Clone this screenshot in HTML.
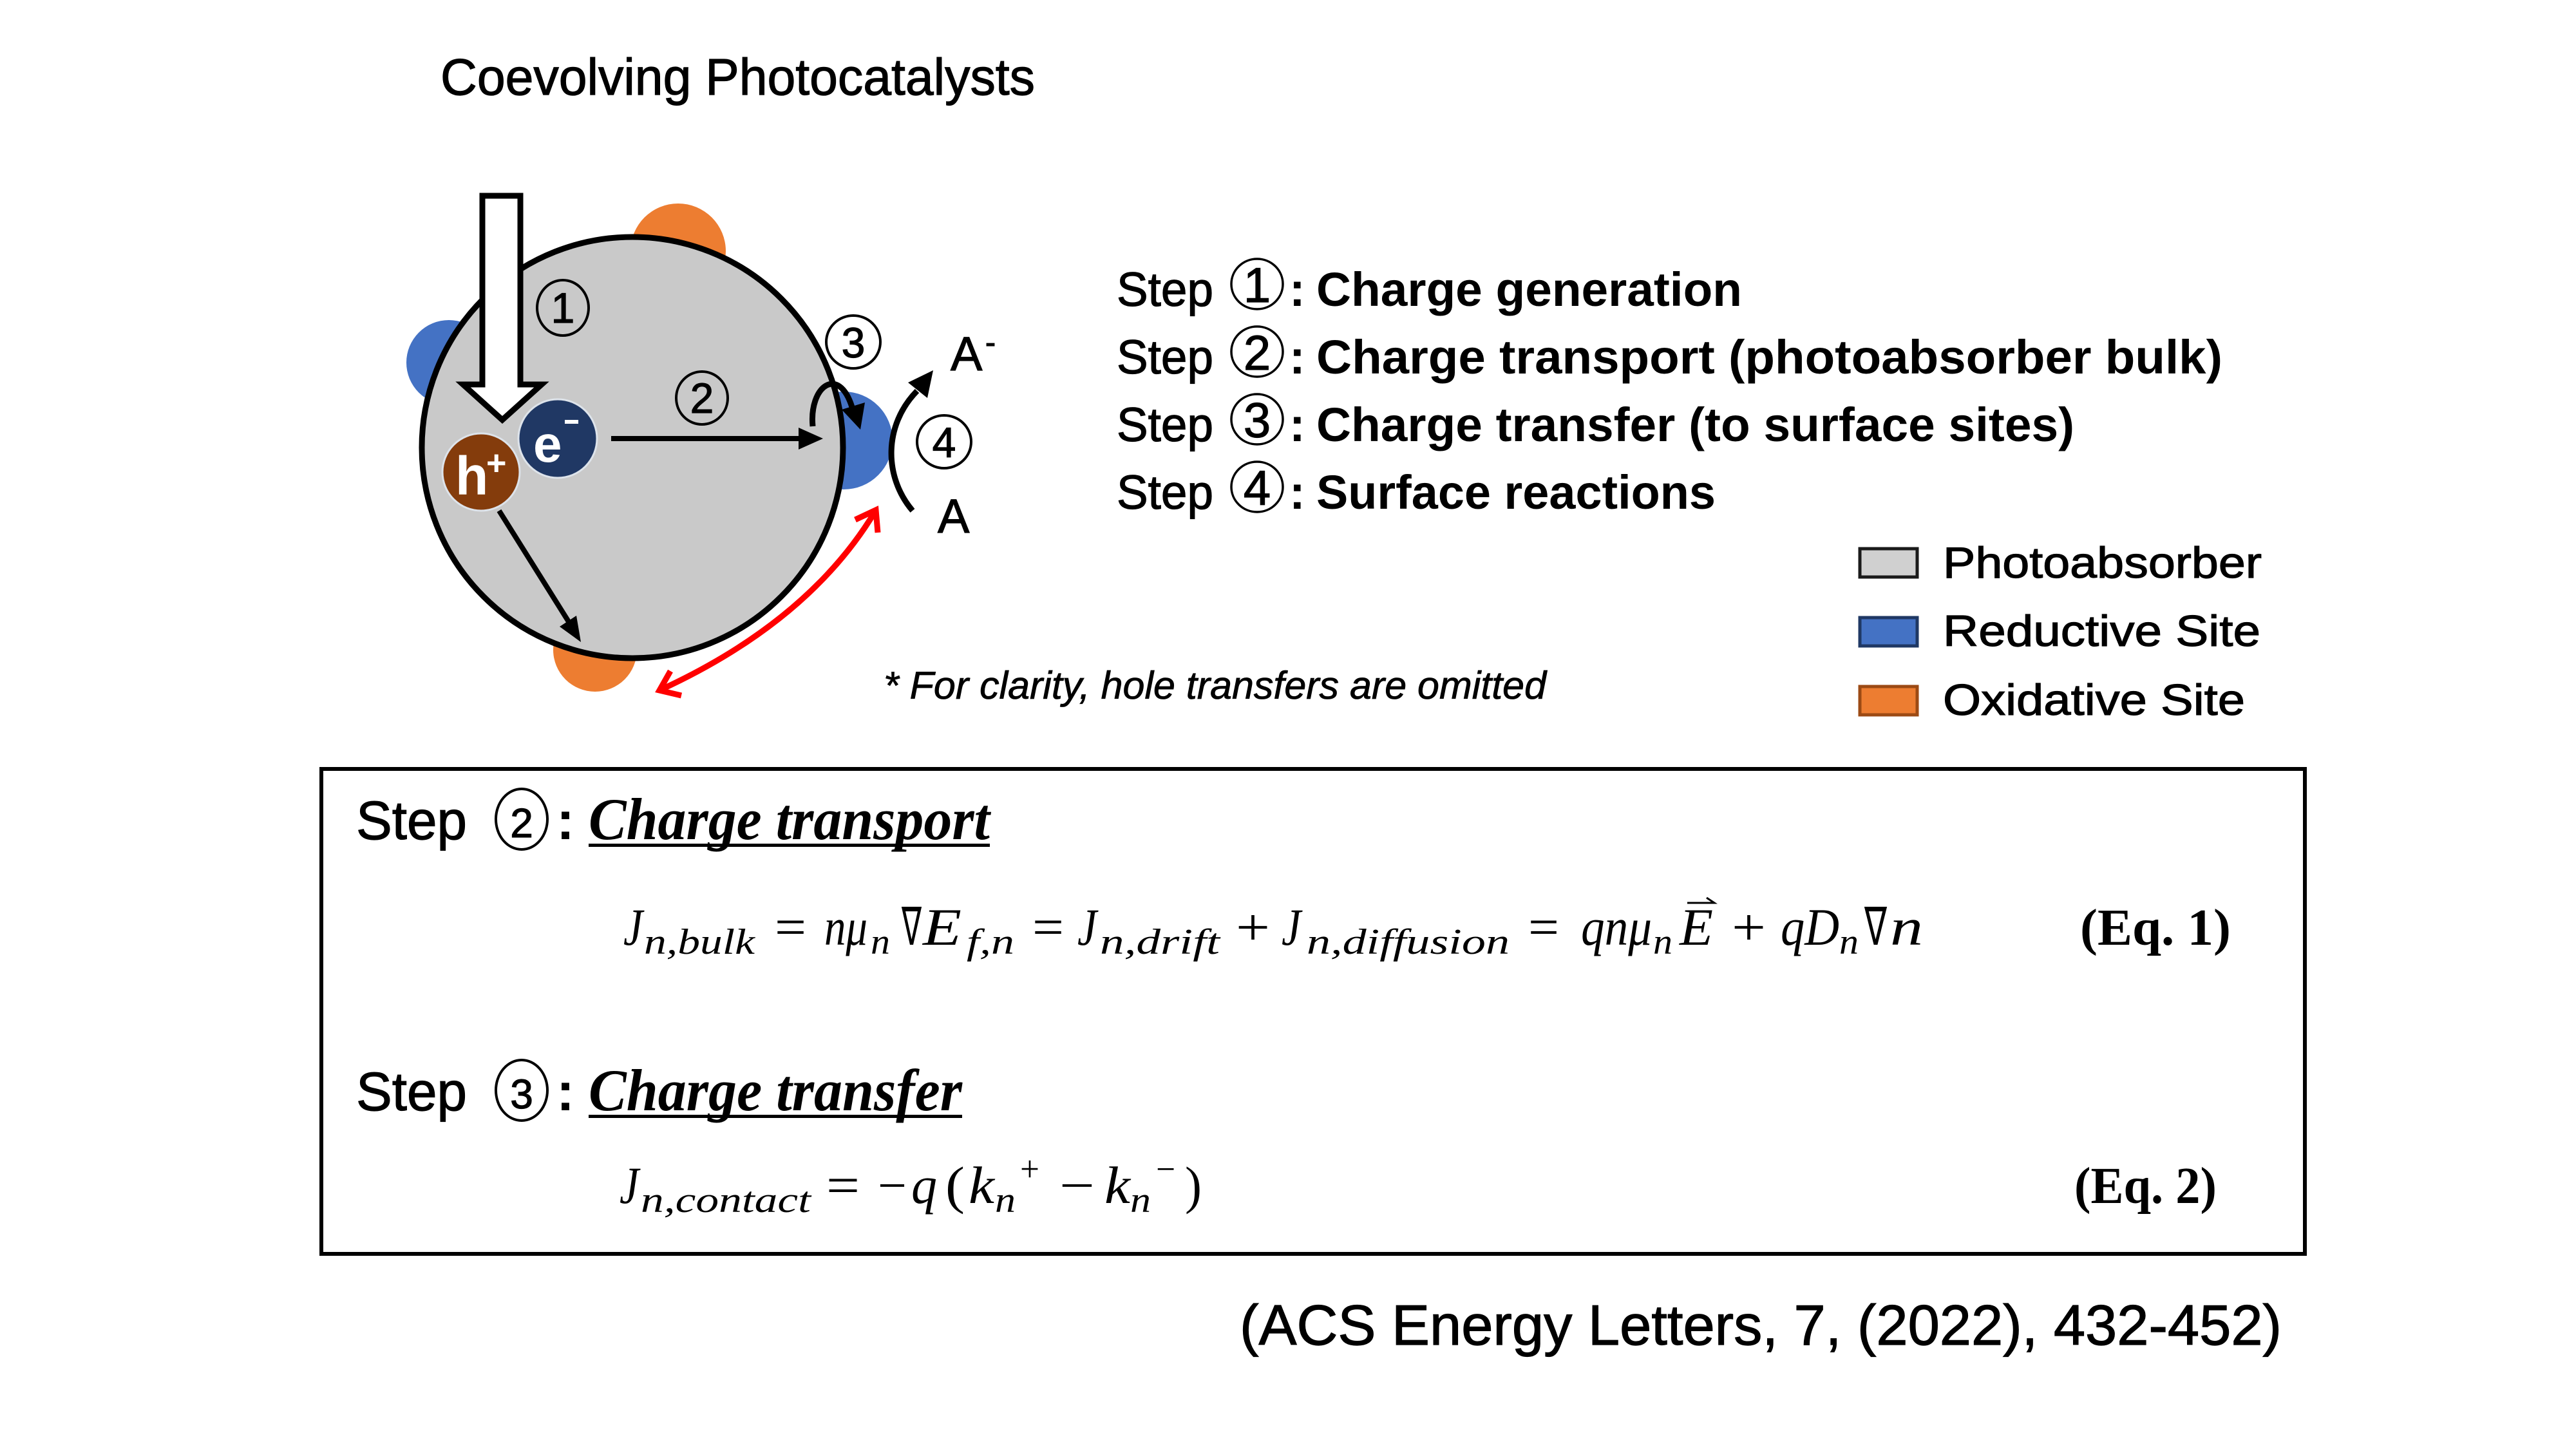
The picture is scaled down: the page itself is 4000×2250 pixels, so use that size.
<!DOCTYPE html>
<html>
<head>
<meta charset="utf-8">
<style>
html,body{margin:0;padding:0;background:#fff;}
svg{display:block;}
.s{font-family:"Liberation Sans",sans-serif;}
.sk{font-family:"Liberation Sans",sans-serif;stroke:#000;stroke-width:1.2;}
.sb{font-family:"Liberation Sans",sans-serif;font-weight:bold;}
.si{font-family:"Liberation Sans",sans-serif;font-style:italic;}
.m{font-family:"Liberation Serif",serif;font-style:italic;}
.r{font-family:"Liberation Serif",serif;}
.rbi{font-family:"Liberation Serif",serif;font-style:italic;font-weight:bold;}
.rb{font-family:"Liberation Serif",serif;font-weight:bold;}
</style>
</head>
<body>
<svg xmlns="http://www.w3.org/2000/svg" width="4000" height="2250" viewBox="0 0 4000 2250">
<rect width="4000" height="2250" fill="#ffffff"/>

<!-- Title -->
<text class="sk" x="684" y="147" font-size="80" textLength="923" lengthAdjust="spacingAndGlyphs">Coevolving Photocatalysts</text>

<!-- ===== Diagram ===== -->
<circle cx="1053" cy="390" r="74" fill="#ED7D31"/>
<circle cx="697" cy="563" r="66" fill="#4472C4"/>
<circle cx="1310" cy="684" r="76" fill="#4472C4"/>
<circle cx="924" cy="1009" r="65" fill="#ED7D31"/>
<circle cx="982" cy="695" r="327" fill="#C9C9C9" stroke="#000" stroke-width="9"/>

<!-- big light arrow -->
<polygon points="749,304 808,304 808,597 841,597 780,652 719,597 749,597" fill="#fff" stroke="#000" stroke-width="9" stroke-linejoin="miter"/>

<!-- circled 1 -->
<ellipse cx="874" cy="478" rx="40" ry="43" fill="none" stroke="#000" stroke-width="4"/>
<text class="sk" x="874" y="501" font-size="66" text-anchor="middle">1</text>

<!-- h+ and e- -->
<circle cx="747" cy="733" r="60" fill="#843C0C" stroke="#dde3ea" stroke-width="3"/>
<text class="sb" x="707" y="768" font-size="84" fill="#fff">h</text>
<text class="sb" x="755" y="737" font-size="54" fill="#fff">+</text>
<circle cx="866" cy="681" r="61" fill="#203864" stroke="#dde3ea" stroke-width="3"/>
<text class="sb" x="828" y="717" font-size="80" fill="#fff">e</text>
<rect x="877" y="652" width="21" height="6" fill="#fff"/>

<!-- arrow 2 -->
<line x1="949" y1="681" x2="1246" y2="681" stroke="#000" stroke-width="8"/>
<polygon points="1240,664 1278,681 1240,698" fill="#000"/>
<ellipse cx="1090" cy="618" rx="40" ry="41" fill="none" stroke="#000" stroke-width="4"/>
<text class="sk" x="1090" y="641" font-size="66" text-anchor="middle">2</text>

<!-- arrow from h+ -->
<line x1="775" y1="793" x2="884" y2="967" stroke="#000" stroke-width="8"/>
<polygon points="902,997 895,956 869,973" fill="#000"/>

<!-- curved arrow 3 -->
<path d="M1262,662 C1256,600 1302,566 1323,632" fill="none" stroke="#000" stroke-width="9"/>
<polygon points="1336,667 1343,625 1307,636" fill="#000"/>
<ellipse cx="1325" cy="531" rx="42" ry="41" fill="none" stroke="#000" stroke-width="4"/>
<text class="sk" x="1325" y="555" font-size="66" text-anchor="middle">3</text>

<!-- arc 4 -->
<path d="M1417,793 C1372,740 1372,660 1424,607" fill="none" stroke="#000" stroke-width="9"/>
<polygon points="1449,575 1440,618 1410,594" fill="#000"/>
<ellipse cx="1466" cy="686" rx="42" ry="41" fill="none" stroke="#000" stroke-width="4"/>
<text class="sk" x="1466" y="710" font-size="66" text-anchor="middle">4</text>

<!-- A- and A -->
<text class="sk" x="1476" y="575" font-size="74">A</text>
<text class="sk" x="1530" y="548" font-size="48">-</text>
<text class="sk" x="1456" y="827" font-size="74">A</text>

<!-- red double arrow -->
<path d="M1026,1071 Q1256,965 1359,794" fill="none" stroke="#FF0000" stroke-width="9"/>
<polyline points="1058,1080 1024,1072 1041,1042" fill="none" stroke="#FF0000" stroke-width="9" stroke-linejoin="miter"/>
<polyline points="1328,807 1360,792 1363,827" fill="none" stroke="#FF0000" stroke-width="9" stroke-linejoin="miter"/>

<!-- footnote -->
<text class="si" x="1372" y="1085" font-size="60" textLength="1029" lengthAdjust="spacingAndGlyphs" stroke="#000" stroke-width="0.8">* For clarity, hole transfers are omitted</text>

<!-- ===== Steps list ===== -->
<g>
  <text class="sk" x="1734" y="475" font-size="74" textLength="150" lengthAdjust="spacingAndGlyphs">Step</text>
  <ellipse cx="1952" cy="441" rx="40" ry="39" fill="none" stroke="#000" stroke-width="3.5"/>
  <text class="sk" x="1952" y="469" font-size="76" text-anchor="middle">1</text>
  <text class="sb" x="2002" y="475" font-size="74">:</text>
  <text class="sb" x="2044" y="475" font-size="74" textLength="661" lengthAdjust="spacingAndGlyphs">Charge generation</text>

  <text class="sk" x="1734" y="580" font-size="74" textLength="150" lengthAdjust="spacingAndGlyphs">Step</text>
  <ellipse cx="1952" cy="546" rx="40" ry="39" fill="none" stroke="#000" stroke-width="3.5"/>
  <text class="sk" x="1952" y="574" font-size="76" text-anchor="middle">2</text>
  <text class="sb" x="2002" y="580" font-size="74">:</text>
  <text class="sb" x="2044" y="580" font-size="74" textLength="1407" lengthAdjust="spacingAndGlyphs">Charge transport (photoabsorber bulk)</text>

  <text class="sk" x="1734" y="685" font-size="74" textLength="150" lengthAdjust="spacingAndGlyphs">Step</text>
  <ellipse cx="1952" cy="651" rx="40" ry="39" fill="none" stroke="#000" stroke-width="3.5"/>
  <text class="sk" x="1952" y="679" font-size="76" text-anchor="middle">3</text>
  <text class="sb" x="2002" y="685" font-size="74">:</text>
  <text class="sb" x="2044" y="685" font-size="74" textLength="1177" lengthAdjust="spacingAndGlyphs">Charge transfer (to surface sites)</text>

  <text class="sk" x="1734" y="790" font-size="74" textLength="150" lengthAdjust="spacingAndGlyphs">Step</text>
  <ellipse cx="1952" cy="756" rx="40" ry="39" fill="none" stroke="#000" stroke-width="3.5"/>
  <text class="sk" x="1952" y="784" font-size="76" text-anchor="middle">4</text>
  <text class="sb" x="2002" y="790" font-size="74">:</text>
  <text class="sb" x="2044" y="790" font-size="74" textLength="620" lengthAdjust="spacingAndGlyphs">Surface reactions</text>
</g>

<!-- ===== Legend ===== -->
<rect x="2888" y="852" width="89" height="44" fill="#D0D0D0" stroke="#1a1a1a" stroke-width="5"/>
<text class="sk" x="3017" y="897" font-size="68" textLength="495" lengthAdjust="spacingAndGlyphs">Photoabsorber</text>
<rect x="2888" y="959" width="89" height="44" fill="#4472C4" stroke="#1F3864" stroke-width="5"/>
<text class="sk" x="3017" y="1003" font-size="68" textLength="493" lengthAdjust="spacingAndGlyphs">Reductive Site</text>
<rect x="2888" y="1066" width="89" height="44" fill="#ED7D31" stroke="#9C4A14" stroke-width="5"/>
<text class="sk" x="3017" y="1110" font-size="68" textLength="469" lengthAdjust="spacingAndGlyphs">Oxidative Site</text>

<!-- ===== Equation box ===== -->
<rect x="499" y="1194" width="3080" height="753" fill="none" stroke="#000" stroke-width="6"/>

<!-- Step 2 header -->
<text class="sk" x="553" y="1303" font-size="84" textLength="172" lengthAdjust="spacingAndGlyphs">Step</text>
<ellipse cx="810" cy="1272" rx="40" ry="47" fill="none" stroke="#000" stroke-width="4"/>
<text class="sk" x="810" y="1300" font-size="64" text-anchor="middle">2</text>
<text class="sb" x="864" y="1303" font-size="84">:</text>
<text class="rbi" x="914" y="1303" font-size="92" textLength="623" lengthAdjust="spacingAndGlyphs">Charge transport</text>
<rect x="914" y="1310" width="623" height="5" fill="#000"/>

<!-- Eq 1 -->
<g>
  <text class="m" x="968" y="1467" font-size="82" textLength="30" lengthAdjust="spacingAndGlyphs">J</text>
  <text class="m" x="1000" y="1481" font-size="56" textLength="172" lengthAdjust="spacingAndGlyphs">n,bulk</text>
  <text class="r" x="1203" y="1467" font-size="82" textLength="49" lengthAdjust="spacingAndGlyphs">=</text>
  <text class="m" x="1280" y="1467" font-size="82" textLength="67" lengthAdjust="spacingAndGlyphs">nμ</text>
  <text class="m" x="1352" y="1481" font-size="56" textLength="30" lengthAdjust="spacingAndGlyphs">n</text>
  <text class="r" x="1400" y="1467" font-size="82" textLength="31" lengthAdjust="spacingAndGlyphs">∇</text>
  <text class="m" x="1433" y="1467" font-size="82" textLength="60" lengthAdjust="spacingAndGlyphs">E</text>
  <text class="m" x="1501" y="1481" font-size="56" textLength="74" lengthAdjust="spacingAndGlyphs">f,n</text>
  <text class="r" x="1603" y="1467" font-size="82" textLength="49" lengthAdjust="spacingAndGlyphs">=</text>
  <text class="m" x="1673" y="1467" font-size="82" textLength="30" lengthAdjust="spacingAndGlyphs">J</text>
  <text class="m" x="1708" y="1481" font-size="56" textLength="186" lengthAdjust="spacingAndGlyphs">n,drift</text>
  <text class="r" x="1919" y="1467" font-size="82" textLength="53" lengthAdjust="spacingAndGlyphs">+</text>
  <text class="m" x="1990" y="1467" font-size="82" textLength="30" lengthAdjust="spacingAndGlyphs">J</text>
  <text class="m" x="2029" y="1481" font-size="56" textLength="315" lengthAdjust="spacingAndGlyphs">n,diffusion</text>
  <text class="r" x="2373" y="1467" font-size="82" textLength="48" lengthAdjust="spacingAndGlyphs">=</text>
  <text class="m" x="2455" y="1467" font-size="82" textLength="110" lengthAdjust="spacingAndGlyphs">qnμ</text>
  <text class="m" x="2567" y="1481" font-size="56" textLength="30" lengthAdjust="spacingAndGlyphs">n</text>
  <text class="m" x="2608" y="1467" font-size="82" textLength="52" lengthAdjust="spacingAndGlyphs">E</text>
  <line x1="2620" y1="1402" x2="2660" y2="1402" stroke="#000" stroke-width="3"/>
  <polyline points="2650,1394 2662,1402 2650,1402" fill="none" stroke="#000" stroke-width="3"/>
  <text class="r" x="2689" y="1467" font-size="82" textLength="53" lengthAdjust="spacingAndGlyphs">+</text>
  <text class="m" x="2765" y="1467" font-size="82" textLength="91" lengthAdjust="spacingAndGlyphs">qD</text>
  <text class="m" x="2856" y="1481" font-size="56" textLength="30" lengthAdjust="spacingAndGlyphs">n</text>
  <text class="r" x="2895" y="1467" font-size="82" textLength="35" lengthAdjust="spacingAndGlyphs">∇</text>
  <text class="m" x="2935" y="1467" font-size="82" textLength="51" lengthAdjust="spacingAndGlyphs">n</text>
  <text class="rb" x="3230" y="1467" font-size="80" textLength="234" lengthAdjust="spacingAndGlyphs">(Eq.  1)</text>
</g>

<!-- Step 3 header -->
<text class="sk" x="553" y="1724" font-size="84" textLength="172" lengthAdjust="spacingAndGlyphs">Step</text>
<ellipse cx="810" cy="1693" rx="40" ry="47" fill="none" stroke="#000" stroke-width="4"/>
<text class="sk" x="810" y="1721" font-size="64" text-anchor="middle">3</text>
<text class="sb" x="864" y="1724" font-size="84">:</text>
<text class="rbi" x="914" y="1724" font-size="92" textLength="580" lengthAdjust="spacingAndGlyphs">Charge transfer</text>
<rect x="914" y="1731" width="580" height="5" fill="#000"/>

<!-- Eq 2 -->
<g>
  <text class="m" x="962" y="1868" font-size="82" textLength="30" lengthAdjust="spacingAndGlyphs">J</text>
  <text class="m" x="995" y="1882" font-size="56" textLength="264" lengthAdjust="spacingAndGlyphs">n,contact</text>
  <text class="r" x="1283" y="1868" font-size="82" textLength="52" lengthAdjust="spacingAndGlyphs">=</text>
  <text class="r" x="1363" y="1868" font-size="82" textLength="45" lengthAdjust="spacingAndGlyphs">−</text>
  <text class="m" x="1415" y="1868" font-size="82" textLength="40" lengthAdjust="spacingAndGlyphs">q</text>
  <text class="r" x="1468" y="1868" font-size="82" textLength="30" lengthAdjust="spacingAndGlyphs">(</text>
  <text class="m" x="1504" y="1868" font-size="82" textLength="40" lengthAdjust="spacingAndGlyphs">k</text>
  <text class="m" x="1545" y="1882" font-size="56" textLength="32" lengthAdjust="spacingAndGlyphs">n</text>
  <text class="r" x="1584" y="1834" font-size="56" textLength="30" lengthAdjust="spacingAndGlyphs">+</text>
  <text class="r" x="1645" y="1868" font-size="82" textLength="55" lengthAdjust="spacingAndGlyphs">−</text>
  <text class="m" x="1715" y="1868" font-size="82" textLength="40" lengthAdjust="spacingAndGlyphs">k</text>
  <text class="m" x="1755" y="1882" font-size="56" textLength="32" lengthAdjust="spacingAndGlyphs">n</text>
  <text class="r" x="1795" y="1834" font-size="56" textLength="30" lengthAdjust="spacingAndGlyphs">−</text>
  <text class="r" x="1840" y="1868" font-size="82" textLength="26" lengthAdjust="spacingAndGlyphs">)</text>
  <text class="rb" x="3221" y="1868" font-size="80" textLength="221" lengthAdjust="spacingAndGlyphs">(Eq. 2)</text>
</g>

<!-- citation -->
<text class="sk" x="1925" y="2088" font-size="88" textLength="1618" lengthAdjust="spacingAndGlyphs">(ACS Energy Letters, 7, (2022), 432-452)</text>
</svg>
</body>
</html>
